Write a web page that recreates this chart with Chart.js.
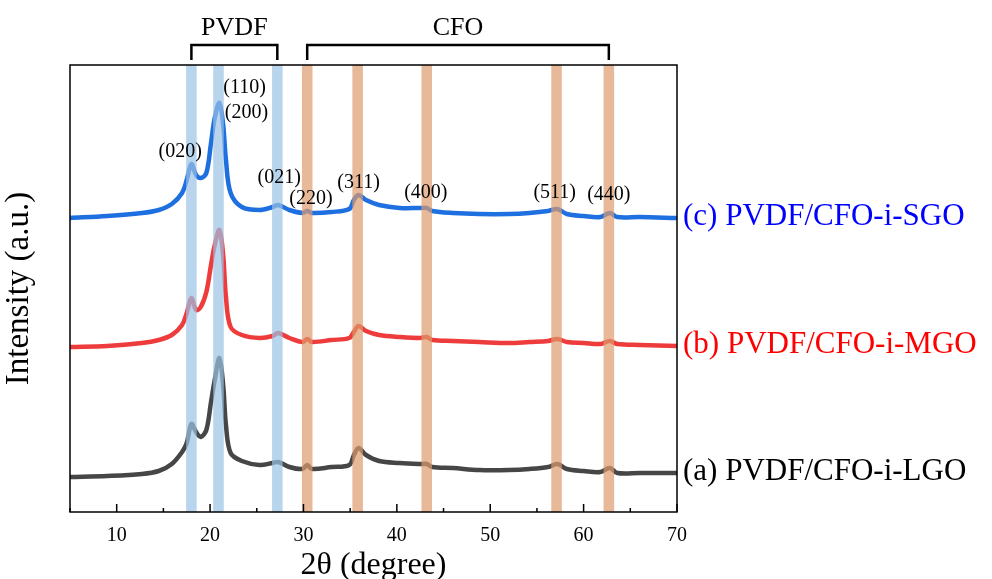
<!DOCTYPE html>
<html>
<head>
<meta charset="UTF-8">
<title>XRD PVDF/CFO-i-GO</title>
<script src="https://cdn.jsdelivr.net/npm/chart.js"></script>
<style>
  html, body { margin: 0; padding: 0; background: #fff; }
  #wrap { width: 992px; height: 579px; }
</style>
</head>
<body>
<div id="wrap"><canvas id="xrd"></canvas></div>
<script>
// 2θ sampling points (degree)
const twoTheta = [5, 9, 12.7, 14.5, 15.9, 17, 17.5, 18, 18.5, 19, 19.6, 20.1, 20.5, 21, 21.4, 21.7, 22.2, 23.4, 25.3, 26.7, 27.3, 28.5, 29.9, 30.4, 30.9, 33, 34.9, 35.4, 35.9, 36.7, 38.1, 40.3, 42.5, 43.2, 43.8, 46, 48.8, 52, 54.2, 56.2, 57.2, 58.2, 60, 61.8, 62.8, 63.6, 66, 70];

// intensities (a.u., already offset)
const lgo = [35, 36, 38, 41, 48, 60, 69, 88, 80, 75, 82, 110, 132, 154, 127, 87, 59, 51, 47, 49, 50, 45, 43, 47, 43, 45, 47, 57, 64, 57, 51, 49, 48, 48, 45, 44, 42, 42, 43, 45, 48, 43, 41, 40, 44, 39, 39, 39];
const mgo = [165, 166, 169, 172, 177, 187, 199, 214, 202, 205, 220, 247, 267, 282, 257, 215, 185, 177, 174, 176, 179, 174, 170, 173, 170, 172, 174, 180, 186, 181, 177, 175, 174, 175, 172, 171, 170, 169, 170, 171, 173, 170, 169, 168, 171, 168, 167, 166];
const sgo = [294, 296, 299, 302, 308, 319, 332, 348, 337, 334, 339, 369, 394, 409, 387, 352, 319, 305, 302, 305, 307, 302, 299, 301, 299, 300, 303, 312, 317, 312, 307, 304, 304, 304, 301, 299, 298, 298, 299, 301, 303, 298, 296, 295, 299, 295, 295, 294];

const seriesNames = ['(a) PVDF/CFO-i-LGO', '(b) PVDF/CFO-i-MGO', '(c) PVDF/CFO-i-SGO'];

// reflection positions
const pvdfBands = [18.0, 20.9, 27.2];
const cfoBands = [30.4, 35.8, 43.2, 57.1, 62.7];

// peak labels: text, 2θ, intensity where text sits
const peakText = ['(020)', '(110)', '(200)', '(021)', '(220)', '(311)', '(400)', '(511)', '(440)'];
const peakX = [16.8, 23.7, 23.9, 27.4, 30.8, 35.9, 43.1, 56.9, 62.7];
const peakY = [360, 424, 399, 334, 313, 329, 319, 319, 317];

const xTicks = [10, 20, 30, 40, 50, 60, 70];
const xMinor = [5, 15, 25, 35, 45, 55, 65];

const serif = '"Liberation Serif", "Times New Roman", serif';

function pts(vals) {
  return twoTheta.map((t, i) => ({ x: t, y: vals[i] }));
}

const decor = {
  id: 'decor',
  afterDatasetsDraw(chart) {
    const { ctx, chartArea: a, scales: { x, y } } = chart;
    const bw = x.getPixelForValue(1.13) - x.getPixelForValue(0);
    ctx.save();
    // shaded reflection bands over the curves
    ctx.fillStyle = 'rgba(155,194,229,0.7)';
    pvdfBands.forEach(c => ctx.fillRect(x.getPixelForValue(c) - bw / 2, a.top, bw, a.bottom - a.top));
    ctx.fillStyle = 'rgba(222,155,108,0.7)';
    cfoBands.forEach(c => ctx.fillRect(x.getPixelForValue(c) - bw / 2, a.top, bw, a.bottom - a.top));

    // frame
    ctx.strokeStyle = '#000';
    ctx.lineWidth = 1.5;
    ctx.strokeRect(a.left, a.top, a.right - a.left, a.bottom - a.top);

    // inward ticks
    ctx.beginPath();
    xTicks.forEach(t => { const px = x.getPixelForValue(t); ctx.moveTo(px, a.bottom); ctx.lineTo(px, a.bottom - 8); });
    xMinor.forEach(t => { const px = x.getPixelForValue(t); ctx.moveTo(px, a.bottom); ctx.lineTo(px, a.bottom - 4); });
    ctx.stroke();

    // brackets above the plot
    ctx.lineWidth = 2.5;
    ctx.font = '26px ' + serif;
    ctx.fillStyle = '#000';
    ctx.textAlign = 'center';
    ctx.textBaseline = 'middle';
    const bracket = (from, to, label) => {
      const l = x.getPixelForValue(from), r = x.getPixelForValue(to);
      ctx.beginPath();
      ctx.moveTo(l, a.top - 5); ctx.lineTo(l, a.top - 20); ctx.lineTo(r, a.top - 20); ctx.lineTo(r, a.top - 5);
      ctx.stroke();
      ctx.fillText(label, (l + r) / 2, a.top - 37);
    };
    bracket(pvdfBands[0], pvdfBands[2], 'PVDF');
    bracket(cfoBands[0], cfoBands[cfoBands.length - 1], 'CFO');

    // peak indices
    ctx.font = '20px ' + serif;
    peakText.forEach((s, i) => ctx.fillText(s, x.getPixelForValue(peakX[i]), y.getPixelForValue(peakY[i])));

    // curve names on the right
    ctx.font = '31px ' + serif;
    ctx.textAlign = 'left';
    const ends = [lgo, mgo, sgo];
    chart.data.datasets.forEach((ds, i) => {
      ctx.fillStyle = ds.labelColor;
      ctx.fillText(seriesNames[i], a.right + 6, y.getPixelForValue(ends[i][ends[i].length - 1]) - 1);
    });
    ctx.restore();
  }
};

new Chart(document.getElementById('xrd'), {
  type: 'line',
  data: {
    datasets: [
      { data: pts(lgo), borderColor: '#464646', labelColor: '#000000', borderWidth: 4.5, pointRadius: 0, tension: 0.35 },
      { data: pts(mgo), borderColor: '#ee3b3b', labelColor: '#ff0000', borderWidth: 4.5, pointRadius: 0, tension: 0.35 },
      { data: pts(sgo), borderColor: '#1e6fdf', labelColor: '#0000ff', borderWidth: 4.5, pointRadius: 0, tension: 0.35 }
    ]
  },
  options: {
    responsive: true,
    maintainAspectRatio: false,
    animation: false,
    layout: { padding: { top: 65, right: 315, left: 0, bottom: 0 } },
    plugins: { legend: { display: false }, tooltip: { enabled: false } },
    scales: {
      x: {
        type: 'linear', min: 5, max: 70,
        grid: { display: false },
        border: { display: false },
        afterBuildTicks: s => { s.ticks = xTicks.map(v => ({ value: v })); },
        afterFit: s => { s.height = 67; },
        ticks: { color: '#000', font: { family: serif, size: 20 }, padding: 4, maxRotation: 0 },
        title: { display: true, text: '2θ (degree)', color: '#000', font: { family: serif, size: 32 }, padding: { top: 0, bottom: -6 } }
      },
      y: {
        min: 0, max: 447,
        grid: { display: false },
        border: { display: false },
        ticks: { display: false },
        afterFit: s => { s.width = 70; },
        title: { display: true, text: 'Intensity (a.u.)', color: '#000', font: { family: serif, size: 33 }, padding: 0 }
      }
    }
  },
  plugins: [decor]
});
</script>
</body>
</html>
